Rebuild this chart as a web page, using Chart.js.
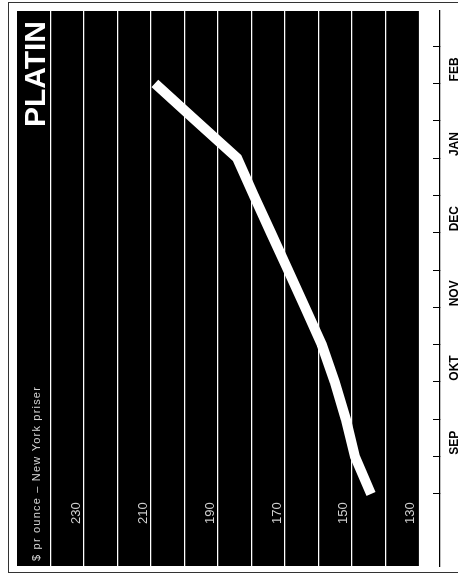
<!DOCTYPE html>
<html>
<head>
<meta charset="utf-8">
<script src="https://cdn.jsdelivr.net/npm/chart.js@4.4.1/dist/chart.umd.min.js"></script>
<style>
  html, body { margin: 0; padding: 0; background: #fff; overflow: hidden; }
  /* the chart is drawn lying down and turned a quarter turn, like the printed page */
  #wrap { position: absolute; left: 0; top: 0; width: 578px; height: 458px;
          transform-origin: 0 0; transform: translateY(578px) rotate(-90deg); }
  #frame { position: absolute; left: 5px; top: 8px; width: 569px; height: 460px;
           border: 1px solid #333; border-bottom: none; }
  canvas { position: absolute; left: 0; top: 0; }
</style>
</head>
<body>
<div id="wrap">
  <div id="frame"></div>
  <canvas id="chart-platin" width="578" height="458"></canvas>
</div>
<script>
// half-month steps from early September to February
const steps = [0, 1, 2, 3, 4, 5, 6, 7, 8, 9, 10, 11];
const prices = [144.3, 149.1, 151.8, 155.1, 159.0, 164.0, 169.1, 174.2, 179.3, 184.3, 196.6, 208.8];
const tickSteps = [0, 1, 2, 3, 4, 5, 6, 7, 8, 9, 10, 11, 12];
const months = ['SEP', 'OKT', 'NOV', 'DEC', 'JAN', 'FEB'];
const priceGrid = [130, 140, 150, 160, 170, 180, 190, 200, 210, 220, 230, 240];
const priceLabels = [130, 150, 170, 190, 210, 230];

const titleText = 'PLATIN';
const subtitleText = '$ pr ounce – New York priser';

// no extra room for labels, the panel edges are fixed
function noPadding(scale) {
  scale.paddingLeft = 0;
  scale.paddingRight = 0;
  scale.paddingTop = 0;
  scale.paddingBottom = 0;
}

const platinPanel = {
  id: 'platinPanel',
  beforeDraw(chart) {
    const {ctx, chartArea, scales: {y}} = chart;
    const top = y.getPixelForValue(250);
    const bottom = y.getPixelForValue(130);
    ctx.save();
    ctx.fillStyle = '#000';
    ctx.fillRect(chartArea.left, top, chartArea.right - chartArea.left, bottom - top);
    ctx.restore();
  },
  afterDraw(chart) {
    const {ctx, chartArea} = chart;
    ctx.save();
    ctx.fillStyle = '#fff';
    ctx.textBaseline = 'alphabetic';
    ctx.font = "bold 30px 'Liberation Sans', Arial, sans-serif";
    ctx.textAlign = 'right';
    ctx.fillText(titleText, chartArea.right - 10, chartArea.top + 28);
    ctx.fillStyle = '#d8d8d8';
    ctx.font = "11px 'Liberation Sans', Arial, sans-serif";
    ctx.letterSpacing = '1.2px';
    ctx.textAlign = 'left';
    ctx.fillText(subtitleText, chartArea.left + 5, chartArea.top + 23);
    ctx.restore();
  }
};

var chartPlatin = new Chart(
  document.getElementById('chart-platin').getContext('2d'),
  { type: 'line',
    data: {
      datasets: [{
        data: steps.map((s, i) => ({x: s, y: prices[i]})),
        borderColor: '#fff',
        borderWidth: 10,
        borderCapStyle: 'butt',
        borderJoinStyle: 'miter',
        pointRadius: 0,
        tension: 0,
        fill: false
      }]
    },
    options: {
      responsive: false,
      animation: false,
      layout: { padding: { left: 12, right: 11, top: 17, bottom: 0 } },
      plugins: {
        legend: { display: false },
        tooltip: { enabled: false }
      },
      scales: {
        x: {
          type: 'linear',
          position: 'bottom',
          min: -1.93,
          max: 12.94,
          afterBuildTicks: (scale) => { scale.ticks = tickSteps.map(v => ({value: v})); },
          afterFit: (scale) => { scale.height = 18; noPadding(scale); },
          grid: {
            drawOnChartArea: false,
            drawTicks: true,
            tickLength: -7,
            color: '#000',
            lineWidth: 1
          },
          border: { display: true, color: '#000', width: 1.3 },
          ticks: {
            autoSkip: false,
            maxRotation: 0,
            padding: 14,
            labelOffset: 14,
            color: '#000',
            font: { family: "'Liberation Sans', Arial, sans-serif", size: 12, weight: 'bold' },
            callback: (value) => (value % 2 === 1 ? months[(value - 1) / 2] : '')
          }
        },
        y: {
          type: 'linear',
          position: 'left',
          min: 123.7,
          max: 250,
          afterBuildTicks: (scale) => { scale.ticks = priceGrid.map(v => ({value: v})); },
          afterFit: (scale) => { scale.width = 0; noPadding(scale); },
          grid: {
            drawTicks: false,
            color: (ctx) => (ctx.tick && ctx.tick.value === 130 ? 'rgba(0,0,0,0)' : '#fff'),
            lineWidth: 1.2
          },
          border: { display: false },
          ticks: {
            mirror: true,
            padding: 42,
            labelOffset: -8,
            color: '#d0d0d0',
            font: { family: "'Liberation Sans', Arial, sans-serif", size: 13 },
            callback: (value) => (priceLabels.includes(value) ? String(value) : '')
          }
        }
      }
    },
    plugins: [platinPanel]
  }
); /* <-- End 'chartPlatin' */
</script>
</body>
</html>
